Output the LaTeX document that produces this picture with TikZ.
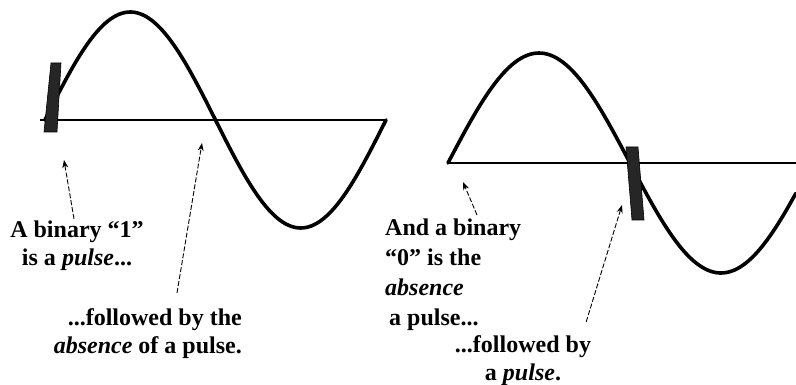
\documentclass[tikz,border=0pt]{standalone}
\usepackage{fontspec}
\setmainfont{Liberation Serif}
\usetikzlibrary{arrows.meta}

\begin{document}
\begin{tikzpicture}[
  x=1pt,y=-1pt,
  wave/.style={line width=3.6pt,line join=round,line cap=round},
  axisline/.style={line width=1.8pt},
  pulse/.style={fill=black!85,draw=black,line width=0.6pt},
  lbl/.style={font=\fontsize{24}{28}\selectfont\bfseries,inner sep=0pt},
  pointer/.style={-{Stealth[length=8pt,width=6pt]},line width=0.9pt,dash pattern=on 5pt off 2pt}
]
\useasboundingbox (0,0) rectangle (796,385);
\draw[axisline] (40,120) -- (386,120);
\draw[wave] plot[domain=0:360,samples=120] ({45+\x/360*341},{120-108*sin(\x)});
\draw[pulse] (44,132) -- (51,63) -- (61,63) -- (57,132) -- cycle;
\draw[axisline] (447,163) -- (796,163);
\draw[wave] plot[domain=0:344,samples=120] ({448+\x/360*364},{163-110*sin(\x)});
\draw[pulse] (626,147) -- (638,147) -- (644,220) -- (632,220) -- cycle;
\node[lbl,align=center] (one) at (77,246) {A binary “1”\\is a \textit{pulse}...};
\node[lbl,align=right,anchor=east] (absA) at (242,334) {...followed by the\\\textit{absence} of a pulse.};
\node[lbl,align=left,anchor=west,font=\fontsize{24}{30}\selectfont\bfseries] (zero) at (385,275) {And a binary\\“0” is the\\\textit{absence}\\\hspace*{4pt}a pulse...};
\node[lbl,align=center] (pulseB) at (523,361) {...followed by\\a \textit{pulse}.};
\coordinate (tipA) at (64,160);
\coordinate (tipB) at (202,143);
\coordinate (tipC) at (463,182);
\coordinate (tipD) at (622,205);
\draw[pointer] ([xshift=-3pt,yshift=2pt]one.north) -- (tipA);
\draw[pointer] ([xshift=-65pt,yshift=16pt]absA.north east) -- (tipB);
\draw[pointer] ([xshift=92pt,yshift=4pt]zero.north west) -- (tipC);
\draw[pointer] ([xshift=-5pt,yshift=14pt]pulseB.north east) -- (tipD);
\end{tikzpicture}
\end{document}
